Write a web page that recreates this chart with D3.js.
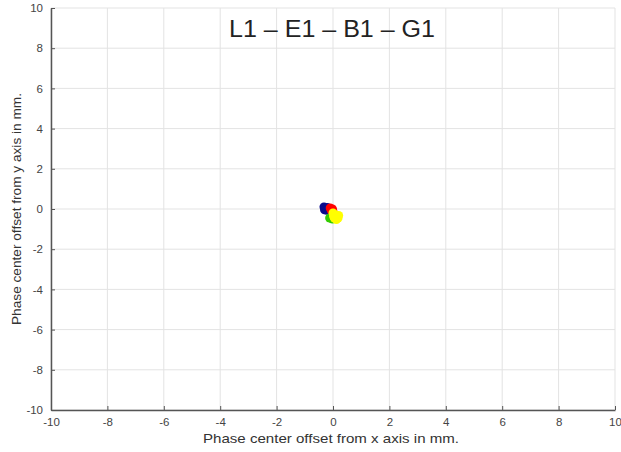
<!DOCTYPE html>
<html><head><meta charset="utf-8">
<script src="https://cdn.jsdelivr.net/npm/d3@7"></script>
<style>body{margin:0;background:#fff;} text{font-family:"Liberation Sans",Arial,sans-serif;}</style>
</head><body>
<svg id="c" width="621" height="452"></svg>
<script>
const title = "L1 – E1 – B1 – G1";
const xLabel = "Phase center offset from x axis in mm.";
const yLabel = "Phase center offset from y axis in mm.";
const tickValues = [-10,-8,-6,-4,-2,0,2,4,6,8,10];
const seriesNames = ["L1","E1","B1","G1"];
const seriesColors = ["#0a0a8c","#ff0000","#33cc00","#ffff00"];
const blueX = [-0.32,-0.25,-0.2,-0.3,-0.22];
const blueY = [0.1,0.02,0.08,-0.04,-0.06];
const redX = [-0.1,-0.02,-0.06,0.0];
const redY = [0.05,0.0,-0.08,-0.12];
const greenX = [-0.12,-0.02,0.02];
const greenY = [-0.45,-0.5,-0.42];
const yellowX = [0.0,0.08,0.15,0.05,0.2,0.12,0.02,0.18];
const yellowY = [-0.2,-0.28,-0.38,-0.45,-0.32,-0.52,-0.36,-0.45];

const svg = d3.select("#c");
const x = d3.scaleLinear().domain([-10,10]).range([51,615]);
const y = d3.scaleLinear().domain([-10,10]).range([410,8]);

// grid
svg.append("g").selectAll("line.v").data(tickValues).join("line")
  .attr("x1",d=>x(d)).attr("x2",d=>x(d)).attr("y1",y(-10)).attr("y2",y(10))
  .attr("stroke","#e3e3e3").attr("stroke-width",1);
svg.append("g").selectAll("line.h").data(tickValues).join("line")
  .attr("y1",d=>y(d)).attr("y2",d=>y(d)).attr("x1",x(-10)).attr("x2",x(10))
  .attr("stroke","#e3e3e3").attr("stroke-width",1);

// axes
const fmt = d => String(d);
const xAxis = d3.axisBottom(x).tickValues(tickValues).tickFormat(fmt).tickSizeInner(-4).tickSizeOuter(0).tickPadding(8);
const yAxis = d3.axisLeft(y).tickValues(tickValues).tickFormat(fmt).tickSizeInner(-4).tickSizeOuter(0).tickPadding(8);
const gx = svg.append("g").attr("transform",`translate(0,${y(-10)})`).call(xAxis);
const gy = svg.append("g").attr("transform",`translate(${x(-10)},0)`).call(yAxis);
[gx,gy].forEach(g=>{
  g.select(".domain").attr("stroke","#555").attr("stroke-width",1.5);
  g.selectAll(".tick line").attr("stroke","#555");
  g.selectAll(".tick text").attr("fill","#444").attr("font-size",11.5).attr("font-family","Liberation Sans, Arial, sans-serif");
});

// data
const series = [
  {xs:blueX, ys:blueY},
  {xs:redX, ys:redY},
  {xs:greenX, ys:greenY},
  {xs:yellowX, ys:yellowY}
];
series.forEach((s,i)=>{
  svg.append("g").selectAll("circle").data(s.xs.map((v,j)=>[v,s.ys[j]])).join("circle")
    .attr("cx",d=>x(d[0])).attr("cy",d=>y(d[1])).attr("r",4.5)
    .attr("fill",seriesColors[i]);
});

// title and labels
svg.append("text").attr("x",332).attr("y",37).attr("text-anchor","middle")
  .attr("font-size",23).attr("fill","#222")
  .attr("textLength",206).attr("lengthAdjust","spacingAndGlyphs").text(title);
svg.append("text").attr("x",331).attr("y",443).attr("text-anchor","middle")
  .attr("font-size",13).attr("fill","#333")
  .attr("textLength",256).attr("lengthAdjust","spacingAndGlyphs").text(xLabel);
svg.append("text").attr("transform",`translate(21,${y(0)}) rotate(-90)`).attr("text-anchor","middle")
  .attr("font-size",13).attr("fill","#333")
  .attr("textLength",232).attr("lengthAdjust","spacingAndGlyphs").text(yLabel);
</script>
</body></html>
